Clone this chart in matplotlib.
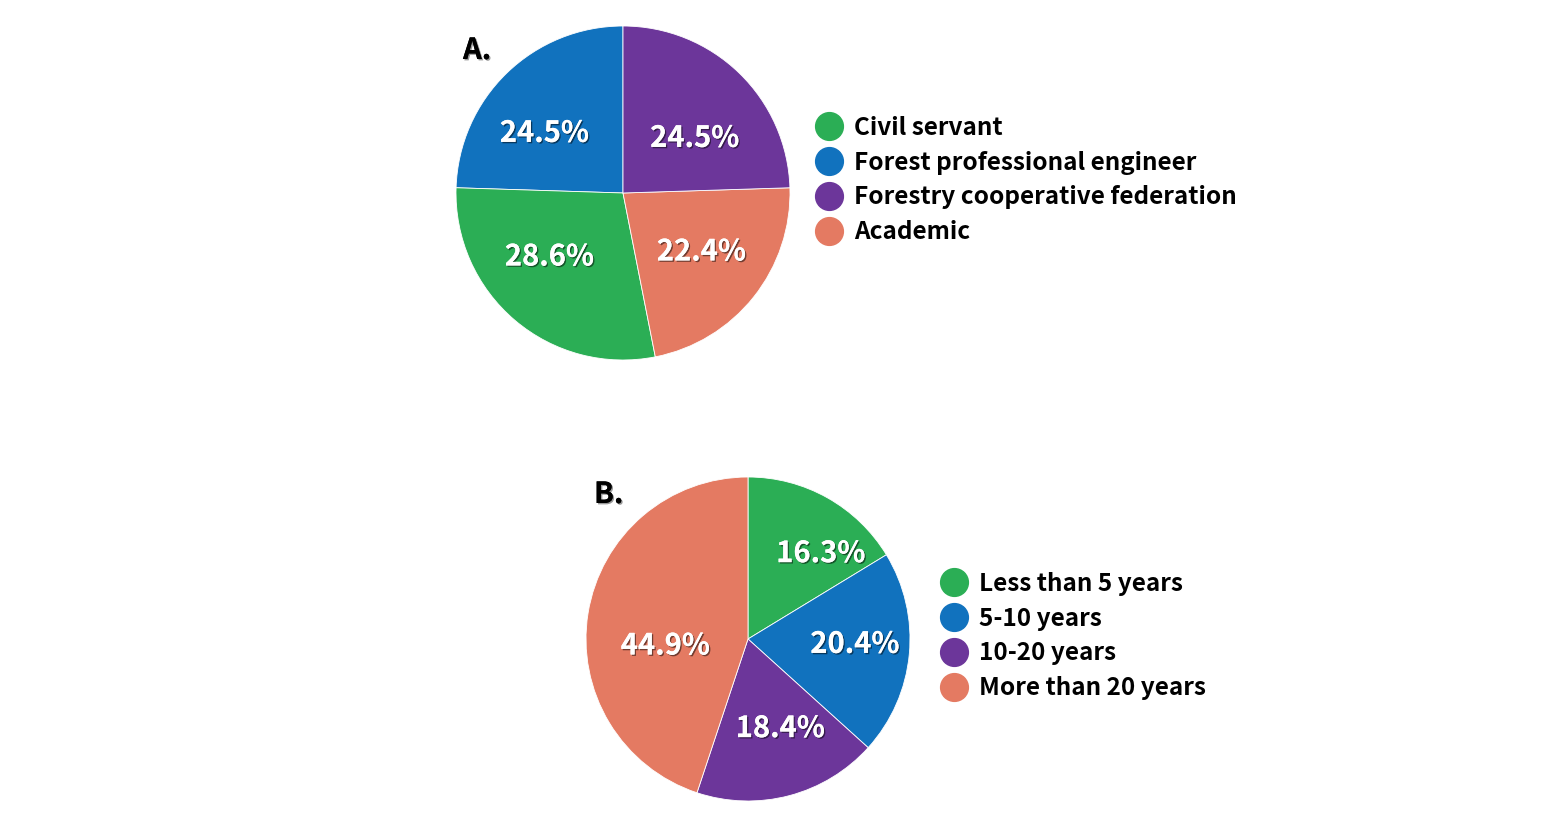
import matplotlib
matplotlib.use("Agg")
from matplotlib import pyplot as plt
from matplotlib.lines import Line2D
import matplotlib.patheffects as pe

plt.rcParams['font.family'] = ['Noto Sans CJK KR', 'DejaVu Sans']

# 数据
labels_a = ["Civil servant", "Forest professional engineer",
            "Forestry cooperative federation", "Academic"]
values_a = [28.6, 24.5, 24.5, 22.4]

labels_b = ["Less than 5 years", "5-10 years", "10-20 years", "More than 20 years"]
values_b = [16.3, 20.4, 18.4, 44.9]

colors = ["#2bae55", "#1172be", "#6c369a", "#e47a62"]

# 百分比标签的位置（饼图半径单位）
pct_pos_a = [(-0.44, -0.38), (-0.47, 0.36), (0.43, 0.33), (0.47, -0.35)]
pct_pos_b = [(0.45, 0.53), (0.66, -0.03), (0.20, -0.55), (-0.51, -0.04)]

W, H = 1548, 816
fig = plt.figure(figsize=(W / 100, H / 100), dpi=100)

shadow = [pe.withSimplePatchShadow(offset=(1, -1), shadow_rgbFace='black', alpha=0.5), pe.Normal()]


def make_ax(cx, cy, r):
    return fig.add_axes([(cx - r) / W, (H - cy - r) / H, 2 * r / W, 2 * r / H])


def draw_pie(ax, values, order, counterclock, pct_pos):
    wedges, _, autos = ax.pie([values[i] for i in order],
                              colors=[colors[i] for i in order],
                              startangle=90, counterclock=counterclock, radius=1,
                              autopct='%.1f%%',
                              wedgeprops=dict(edgecolor='white', linewidth=0.6))
    for t, i in zip(autos, order):
        t.set_position(pct_pos[i])
        t.set_color('white')
        t.set_fontsize(21)
        t.set_fontweight('bold')
        t.set_path_effects(shadow)
    ax.set_xlim(-1, 1)
    ax.set_ylim(-1, 1)


# A: 逆时针，从顶部开始 (blue, green, orange, purple)
ax_a = make_ax(623, 193, 167)
draw_pie(ax_a, values_a, [1, 0, 3, 2], True, pct_pos_a)

# B: 顺时针，从顶部开始
ax_b = make_ax(748, 639, 162)
draw_pie(ax_b, values_b, [0, 1, 2, 3], False, pct_pos_b)


# 图例
def add_legend(labels, x_left, y_center):
    handles = [Line2D([], [], marker='o', linestyle='none', markersize=20,
                      markerfacecolor=c, markeredgecolor=c) for c in colors]
    fig.legend(handles, labels, loc='center left',
               bbox_to_anchor=(x_left / W, 1 - y_center / H),
               frameon=False, handlelength=1.15, handletextpad=0.45,
               labelspacing=0.45, borderpad=0, borderaxespad=0,
               prop=dict(weight='bold', size=17.5))


add_legend(labels_a, 815, 180)
add_legend(labels_b, 940, 636)

# 面板标签
fig.text(463 / W, 1 - 50 / H, "A.", fontsize=21, fontweight='bold', va='center',
         path_effects=[pe.withSimplePatchShadow(offset=(1, -1), alpha=0.4), pe.Normal()])
fig.text(594 / W, 1 - 494 / H, "B.", fontsize=21, fontweight='bold', va='center',
         path_effects=[pe.withSimplePatchShadow(offset=(1, -1), alpha=0.4), pe.Normal()])

plt.savefig('out.png', dpi=100)
